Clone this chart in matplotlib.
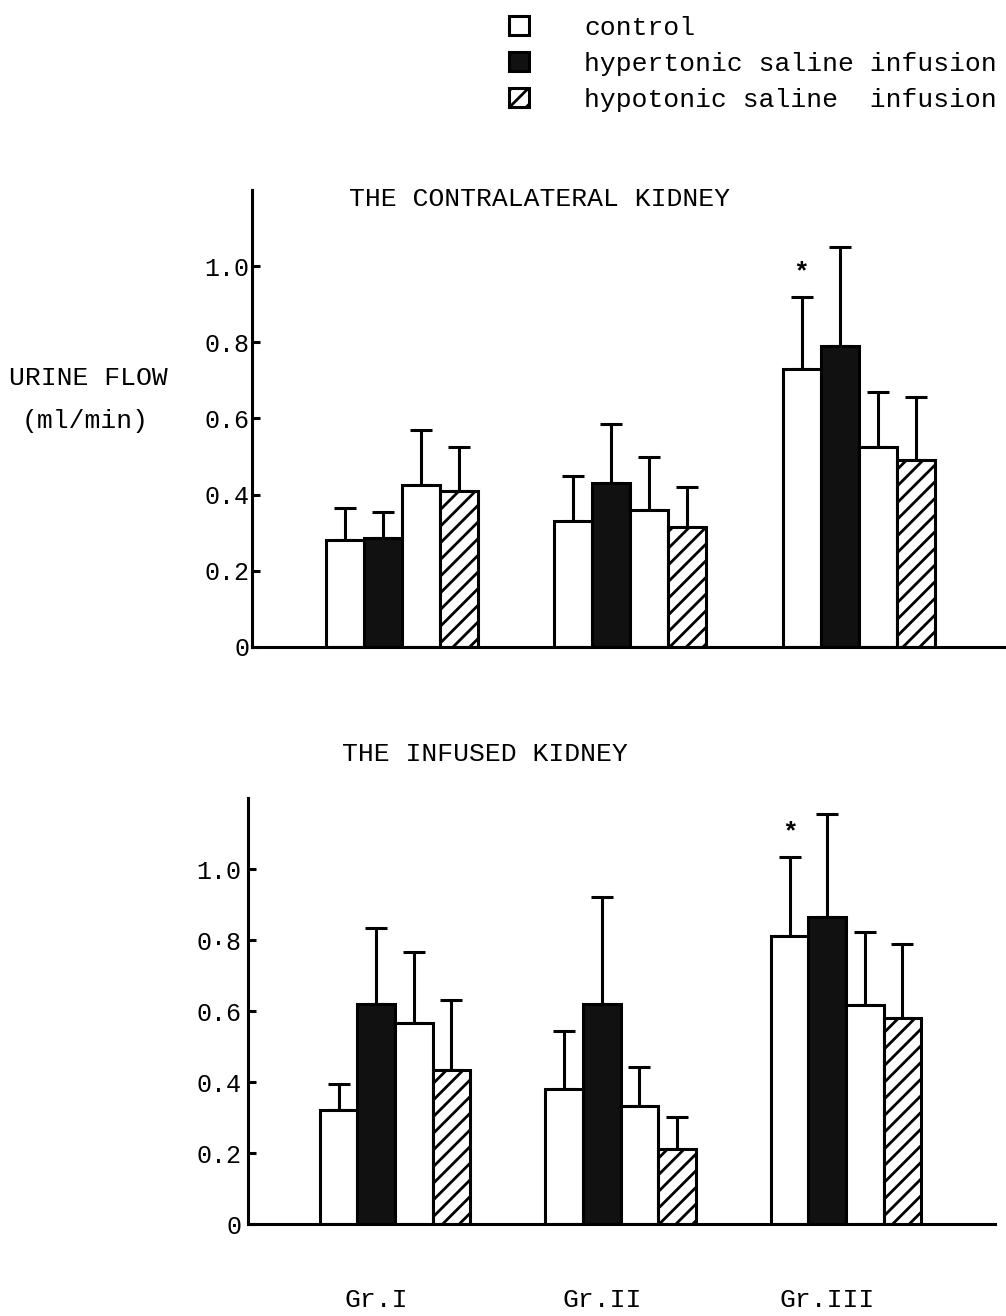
import numpy as np
import matplotlib
matplotlib.use("Agg")
import matplotlib.pyplot as plt
from matplotlib.patches import Patch

plt.rcParams['font.family'] = ['Liberation Mono', 'DejaVu Sans']
plt.rcParams['hatch.linewidth'] = 2.0

groups = ['Gr.I', 'Gr.II', 'Gr.III']
legend_labels = ['control', 'hypertonic saline infusion', 'hypotonic saline  infusion']

# contralateral kidney: mean and upper SE for each bar in a group
contra_ctrl1 = [0.28, 0.33, 0.73]
contra_ctrl1_se = [0.085, 0.12, 0.19]
contra_hyper = [0.285, 0.43, 0.79]
contra_hyper_se = [0.07, 0.155, 0.26]
contra_ctrl2 = [0.425, 0.36, 0.525]
contra_ctrl2_se = [0.145, 0.14, 0.145]
contra_hypo = [0.41, 0.315, 0.49]
contra_hypo_se = [0.115, 0.105, 0.165]

# infused kidney
inf_ctrl1 = [0.32, 0.38, 0.81]
inf_ctrl1_se = [0.075, 0.165, 0.225]
inf_hyper = [0.62, 0.62, 0.865]
inf_hyper_se = [0.215, 0.30, 0.29]
inf_ctrl2 = [0.565, 0.333, 0.618]
inf_ctrl2_se = [0.20, 0.11, 0.205]
inf_hypo = [0.435, 0.212, 0.58]
inf_hypo_se = [0.195, 0.09, 0.21]

ytick_vals = [0, 0.2, 0.4, 0.6, 0.8, 1.0]
ytick_top = ['0', '0.2', '0.4', '0.6', '0.8', '1.0']
ytick_bottom = ['0', '0.2', '0.4', '0.6', '0·8', '1.0']

LW = 2.2
styles = [dict(color='white', hatch=None),
          dict(color='#111111', hatch=None),
          dict(color='white', hatch=None),
          dict(color='white', hatch='//')]


def draw_panel(ax, series, errs, labels, xlim, pad):
    centers = np.arange(len(groups)) * 6.0
    offsets = [-1.5, -0.5, 0.5, 1.5]
    for vals, se, off, st in zip(series, errs, offsets, styles):
        x = centers + off
        ax.bar(x, vals, width=1.0, color=st['color'], edgecolor='black',
               linewidth=LW, hatch=st['hatch'], zorder=2)
        ax.errorbar(x, vals, yerr=[np.zeros(len(vals)), se], fmt='none',
                    ecolor='black', elinewidth=LW, capsize=8, capthick=LW,
                    zorder=1)
    # significance mark over the first control bar of Gr.III
    xs = centers[2] + offsets[0]
    top = series[0][2] + errs[0][2]
    ax.annotate('*', (xs, top), xytext=(0, 9), textcoords='offset points',
                ha='center', va='bottom', fontsize=19, fontweight='bold')
    ax.set_xlim(*xlim)
    ax.set_ylim(0, 1.2)
    for s in ['top', 'right']:
        ax.spines[s].set_visible(False)
    ax.spines['left'].set_linewidth(LW)
    ax.spines['bottom'].set_linewidth(LW)
    ax.set_yticks(ytick_vals)
    ax.set_yticklabels(labels)
    ax.tick_params(axis='y', direction='in', length=6, width=LW, pad=pad,
                   labelsize=18)
    return centers


fig = plt.figure(figsize=(10.06, 13.16), dpi=100)

ax1 = fig.add_axes([0.2505, 0.5084, 0.7485, 0.3473])
c1 = draw_panel(ax1,
                [contra_ctrl1, contra_hyper, contra_ctrl2, contra_hypo],
                [contra_ctrl1_se, contra_hyper_se, contra_ctrl2_se, contra_hypo_se],
                ytick_top, (-3.95, 15.85), 2)
ax1.set_xticks([])

ax2 = fig.add_axes([0.2465, 0.0699, 0.7425, 0.3237])
c2 = draw_panel(ax2,
                [inf_ctrl1, inf_hyper, inf_ctrl2, inf_hypo],
                [inf_ctrl1_se, inf_hyper_se, inf_ctrl2_se, inf_hypo_se],
                ytick_bottom, (-3.91, 15.96), 5)
ax2.set_xticks(c2 - 0.5)
ax2.set_xticklabels(groups, fontsize=19)
ax2.tick_params(axis='x', length=0, pad=46)

fig.text(0.536, 0.849, 'THE CONTRALATERAL KIDNEY', ha='center', va='center',
         fontsize=19)
fig.text(0.482, 0.427, 'THE INFUSED KIDNEY', ha='center', va='center',
         fontsize=19)

fig.text(0.0875, 0.7128, 'URINE FLOW', ha='center', va='center', fontsize=19)
fig.text(0.0845, 0.680, '(ml/min)', ha='center', va='center', fontsize=19)

handles = [Patch(facecolor='white', edgecolor='black', linewidth=LW),
           Patch(facecolor='#111111', edgecolor='black', linewidth=LW),
           Patch(facecolor='white', edgecolor='black', linewidth=LW, hatch='//')]
fig.legend(handles, legend_labels, loc='upper left',
           bbox_to_anchor=(0.506, 0.988), frameon=False, fontsize=19,
           handlelength=0.75, handleheight=0.7, handletextpad=2.1,
           labelspacing=0.45, borderpad=0, borderaxespad=0)

fig.savefig('out.png', dpi=100)
